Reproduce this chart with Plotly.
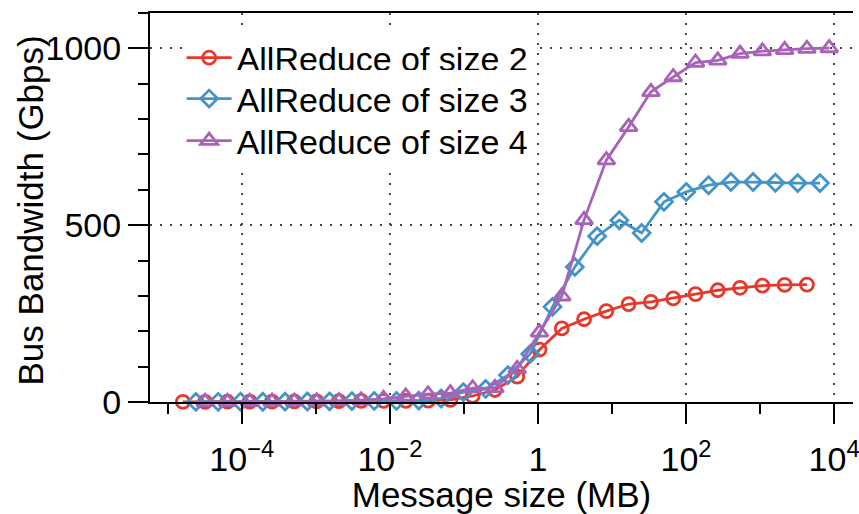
import plotly.graph_objects as go

# Message sizes in bytes (powers of two), converted to MB
red_bytes = [2 ** k for k in range(4, 33)]
blue_bytes = [3 * 2 ** k for k in range(3, 32)]
purple_bytes = [2 ** k for k in range(5, 34)]

red_mb = [b / 1e6 for b in red_bytes]
blue_mb = [b / 1e6 for b in blue_bytes]
purple_mb = [b / 1e6 for b in purple_bytes]

red_bw = [0.5, 0.6, 0.8, 1, 1.2, 1.5, 2, 2.5, 3,
          3, 3, 4, 6, 17, 34, 72, 148, 208, 234, 257, 277, 283, 293,
          305, 316, 323, 329, 331, 332]
blue_bw = [0.3, 0.5, 0.6, 0.8, 1, 1.3, 1.8, 2.5, 3, 3,
           4, 10, 28, 37, 76, 136, 269, 382, 469, 514, 478, 566, 594,
           613, 622, 622, 620, 619, 619]
purple_bw = [0.3, 0.5, 0.7, 1, 1.5, 2, 3, 5,
             9, 16, 22, 25, 39, 40, 94, 197, 299, 515, 684, 778, 877,
             919, 960, 966, 985, 992, 996, 999, 1001]

names = ["AllReduce of size 2", "AllReduce of size 3", "AllReduce of size 4"]
colors = ["#e8372b", "#4394c8", "#a863b8"]
symbols = ["circle-open", "diamond-open", "triangle-up-open"]
sizes = [13, 13, 15]
legend_ids = ["legend", "legend2", "legend3"]
legend_rows = [0.884, 0.779, 0.671]

x_tickvals = [1e-4, 1e-2, 1, 1e2, 1e4]
x_ticktext = ["10<sup>−4</sup>", "10<sup>−2</sup>", "1", "10<sup>2</sup>", "10<sup>4</sup>"]
x_minor = [1e-5, 1e-3, 1e-1, 1e1, 1e3]
y_tickvals = [0, 500, 1000]

FONT = "Liberation Sans, Arial, Helvetica, sans-serif"

fig = go.Figure()
for xs, ys, nm, c, s, sz, lg in zip([red_mb, blue_mb, purple_mb],
                                    [red_bw, blue_bw, purple_bw],
                                    names, colors, symbols, sizes, legend_ids):
    fig.add_trace(go.Scatter(
        x=xs, y=ys, name=nm, mode="lines+markers", legend=lg,
        line=dict(color=c, width=2.8),
        marker=dict(symbol=s, size=sz, color=c, line=dict(width=2.8, color=c)),
        cliponaxis=False,
    ))

grid_kw = dict(showgrid=True, gridcolor="#444", gridwidth=1.5, griddash="2px,8px")

legend_common = dict(x=0.045, xanchor="left", yanchor="middle",
                     bgcolor="white", borderwidth=0, itemwidth=45,
                     font=dict(size=34, family=FONT))

fig.update_layout(
    width=859, height=514,
    margin=dict(l=150, r=0, t=13, b=112, pad=0),
    paper_bgcolor="white", plot_bgcolor="white",
    font=dict(family=FONT, size=34, color="black"),
    showlegend=True,
    legend=dict(y=legend_rows[0], **legend_common),
    legend2=dict(y=legend_rows[1], **legend_common),
    legend3=dict(y=legend_rows[2], **legend_common),
    xaxis=dict(
        type="log", range=[-5.24, 4.255],
        tickmode="array", tickvals=x_tickvals, ticktext=x_ticktext,
        ticks="outside", ticklen=20, tickwidth=2, tickcolor="black",
        ticklabeloverflow="allow", ticklabelstandoff=6,
        showline=True, linewidth=2, linecolor="black", mirror=True,
        zeroline=False,
        minor=dict(tickmode="array", tickvals=x_minor, ticks="outside",
                   ticklen=10, tickwidth=2, tickcolor="black", showgrid=False),
        title=dict(text="Message size (MB)", standoff=4, font=dict(size=35)),
        **grid_kw,
    ),
    yaxis=dict(
        range=[0, 1100],
        tickmode="array", tickvals=y_tickvals,
        ticks="outside", ticklen=20, tickwidth=2, tickcolor="black",
        showline=True, linewidth=2, linecolor="black",
        zeroline=False,
        minor=dict(dtick=100, tick0=0, ticks="outside", ticklen=10,
                   tickwidth=2, tickcolor="black", showgrid=False),
        **grid_kw,
    ),
    annotations=[dict(
        text="Bus Bandwidth (Gbps)", textangle=-90,
        xref="paper", yref="paper", x=-0.17, y=0.4936,
        xanchor="center", yanchor="middle", showarrow=False,
        font=dict(size=35, family=FONT, color="black"),
    )],
)

fig.write_html("out.html")
